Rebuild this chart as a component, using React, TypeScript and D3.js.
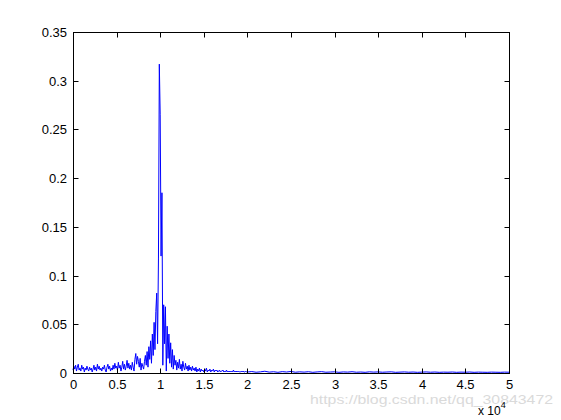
import React from "react";
import * as d3 from "d3";

// Spectrum amplitudes, 0..20000 Hz in steps of 100
const lowStep = 100;
const lowBand = [
  0.003, 0.007, 0.004, 0.008, 0.002, 0.006, 0.009, 0.003, 0.005, 0.002,
  0.008, 0.004, 0.006, 0.001, 0.005, 0.003, 0.007, 0.004, 0.002, 0.006,
  0.003, 0.005, 0.001, 0.004, 0.008, 0.003, 0.006, 0.002, 0.009, 0.004,
  0.007, 0.003, 0.005, 0.002, 0.006, 0.004, 0.008, 0.003, 0.001, 0.006,
  0.009, 0.004, 0.007, 0.002, 0.005, 0.003, 0.008, 0.004, 0.010, 0.005,
  0.007, 0.003, 0.011, 0.005, 0.008, 0.002, 0.006, 0.012, 0.004, 0.009,
  0.003, 0.007, 0.013, 0.005, 0.010, 0.004, 0.008, 0.003, 0.011, 0.006,
  0.002, 0.014, 0.020, 0.009, 0.017, 0.012, 0.006, 0.015, 0.003, 0.010,
  0.007, 0.004, 0.012, 0.018, 0.008, 0.022, 0.006, 0.027, 0.014, 0.033,
  0.010, 0.040, 0.018, 0.052, 0.024, 0.063, 0.082, 0.030, 0.118, 0.317,
  0.265, 0.120, 0.185, 0.008, 0.070, 0.030, 0.068, 0.002, 0.048, 0.015,
  0.040, 0.010, 0.031, 0.006, 0.024, 0.004, 0.018, 0.008, 0.013, 0.003,
  0.011, 0.005, 0.014, 0.004, 0.009, 0.002, 0.012, 0.006, 0.003, 0.010,
  0.004, 0.007, 0.002, 0.008, 0.003, 0.006, 0.002, 0.007, 0.003, 0.005,
  0.002, 0.006, 0.001, 0.004, 0.002, 0.005, 0.001, 0.004, 0.002, 0.003,
  0.001, 0.004, 0.002, 0.005, 0.001, 0.003, 0.002, 0.004, 0.001, 0.003,
  0.002, 0.004, 0.001, 0.003, 0.002, 0.003, 0.001, 0.002, 0.003, 0.001,
  0.002, 0.002, 0.003, 0.001, 0.002, 0.001, 0.003, 0.001, 0.002, 0.001,
  0.002, 0.001, 0.002, 0.001, 0.003, 0.001, 0.002, 0.001, 0.002, 0.001,
  0.002, 0.001, 0.001, 0.002, 0.001, 0.002, 0.001, 0.001, 0.002, 0.001,
  0.001,
];

// 20500..50000 Hz in steps of 500
const highStart = 20500;
const highStep = 500;
const highBand = [
  0.0015, 0.0008, 0.0012, 0.0018, 0.0009, 0.0013, 0.0007, 0.0014, 0.0010, 0.0016,
  0.0008, 0.0012, 0.0009, 0.0013, 0.0007, 0.0011, 0.0014, 0.0008, 0.0010, 0.0012,
  0.0007, 0.0011, 0.0009, 0.0013, 0.0008, 0.0010, 0.0007, 0.0012, 0.0009, 0.0011,
  0.0008, 0.0010, 0.0012, 0.0007, 0.0009, 0.0011, 0.0008, 0.0010, 0.0007, 0.0009,
  0.0011, 0.0008, 0.0010, 0.0007, 0.0009, 0.0008, 0.0010, 0.0007, 0.0009, 0.0008,
  0.0010, 0.0007, 0.0009, 0.0008, 0.0007, 0.0009, 0.0008, 0.0007, 0.0009, 0.0008,
];

const xTicks = [0, 0.5, 1, 1.5, 2, 2.5, 3, 3.5, 4, 4.5, 5];
const yTicks = [0, 0.05, 0.1, 0.15, 0.2, 0.25, 0.3, 0.35];

const W = 561;
const H = 420;
const L = 73;
const R = 509;
const T = 32;
const B = 373;

export default function App() {
  const x = d3.scaleLinear().domain([0, 50000]).range([L, R]);
  const y = d3.scaleLinear().domain([0, 0.35]).range([B, T]);

  const pts: [number, number][] = [];
  lowBand.forEach((v, i) => pts.push([i * lowStep, v]));
  highBand.forEach((v, i) => pts.push([highStart + i * highStep, v]));

  const line = d3
    .line<[number, number]>()
    .x((d) => x(d[0]))
    .y((d) => y(d[1]));

  const font = "Arial, 'Liberation Sans', Helvetica, sans-serif";
  const tl = 5;

  return (
    <svg
      width={W}
      height={H}
      style={{ position: "absolute", left: 0, top: 0, background: "#fff" }}
    >
      <rect x={0} y={0} width={W} height={H} fill="#fff" />
      <path d={line(pts) || ""} fill="none" stroke="#0000ff" strokeWidth={1} />
      <rect
        x={L + 0.5}
        y={T + 0.5}
        width={R - L}
        height={B - T}
        fill="none"
        stroke="#000"
        strokeWidth={1}
      />
      {xTicks.map((t) => {
        const px = Math.round(x(t * 10000)) + 0.5;
        return (
          <g key={"x" + t}>
            <line x1={px} x2={px} y1={B + 0.5} y2={B + 0.5 - tl} stroke="#000" />
            <line x1={px} x2={px} y1={T + 0.5} y2={T + 0.5 + tl} stroke="#000" />
            <text
              x={px}
              y={389}
              textAnchor="middle"
              fontFamily={font}
              fontSize={13}
              fill="#000"
            >
              {String(t)}
            </text>
          </g>
        );
      })}
      {yTicks.map((t) => {
        const py = Math.round(y(t)) + 0.5;
        return (
          <g key={"y" + t}>
            <line x1={L + 0.5} x2={L + 0.5 + tl} y1={py} y2={py} stroke="#000" />
            <line x1={R + 0.5} x2={R + 0.5 - tl} y1={py} y2={py} stroke="#000" />
            <text
              x={67}
              y={py + 4.5}
              textAnchor="end"
              fontFamily={font}
              fontSize={13}
              fill="#000"
            >
              {String(t)}
            </text>
          </g>
        );
      })}
      <text
        x={310}
        y={404}
        fontFamily={font}
        fontSize={13}
        textLength={243}
        lengthAdjust="spacingAndGlyphs"
        fill="#dadada"
      >
        https://blog.csdn.net/qq_30843472
      </text>
      <text x={478} y={415} fontFamily={font} fontSize={12} fill="#000">
        x 10
        <tspan dy={-7} fontSize={9}>
          4
        </tspan>
      </text>
    </svg>
  );
}
